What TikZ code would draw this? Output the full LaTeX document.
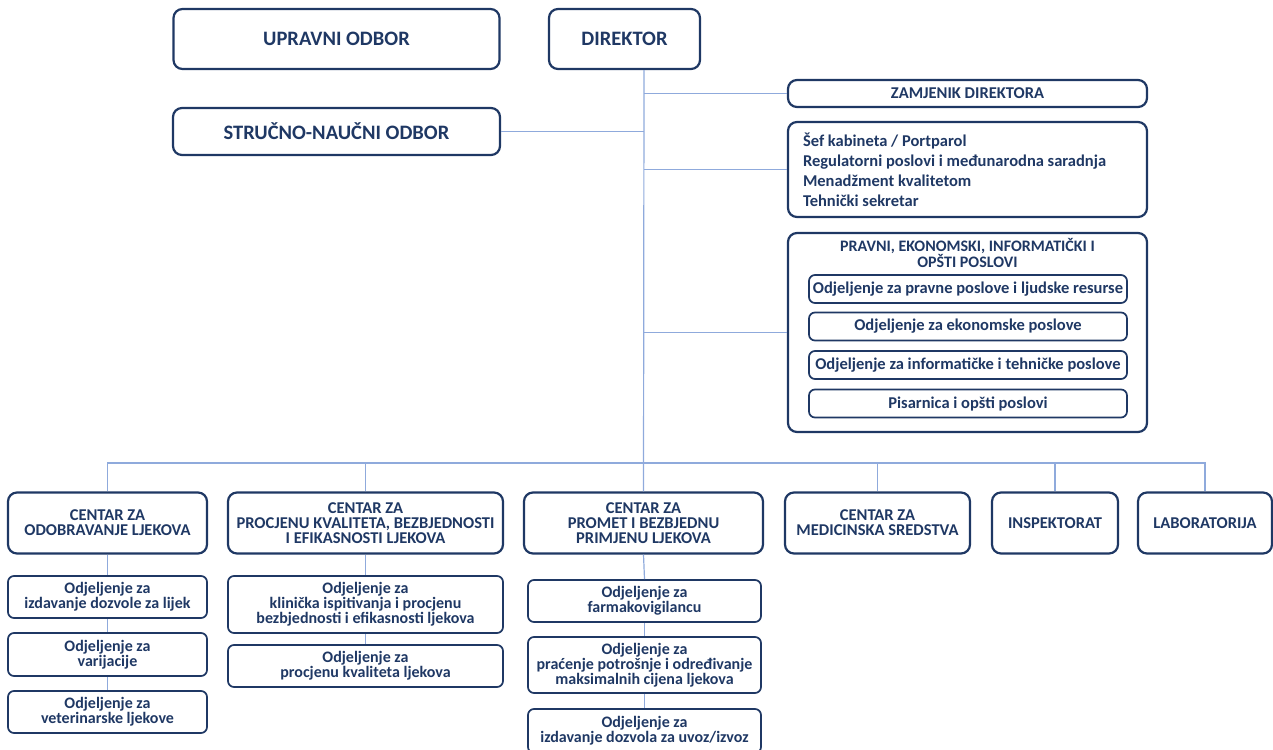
\documentclass[tikz,border=0pt]{standalone}
\usepackage{fontspec}
\setmainfont{Carlito}
\usepackage{tikz}
\usetikzlibrary{positioning}
\definecolor{marine}{RGB}{31,56,100}
\definecolor{bleuclair}{RGB}{143,170,220}

\begin{document}
\begin{tikzpicture}[x=1pt,y=-1pt]
	\useasboundingbox (0,0) rectangle (1273,749);
	\tikzstyle{lien}=[-,line width=1.2pt,draw=bleuclair]
	\tikzset{boite/.style={draw=marine,line width=2.2pt,rounded corners=9pt,text=marine,align=center,inner sep=0pt,font=\fontsize{16}{15}\selectfont\bfseries},
		grande/.style={boite,font=\fontsize{20.5}{22}\selectfont\bfseries},
		centre/.style={boite,minimum height=61pt,font=\fontsize{16.5}{15}\selectfont\bfseries},
		odj/.style={boite,line width=1.7pt,rounded corners=6pt}}
	% organes
	\node[grande,minimum width=326pt,minimum height=60pt] (uo) at (336.5,39) {UPRAVNI ODBOR};
	\node[grande,minimum width=151pt,minimum height=60pt] (dir) at (624.5,39) {DIREKTOR};
	\node[grande,minimum width=327pt,minimum height=47pt] (sno) at (336.5,131.5) {STRUČNO-NAUČNI ODBOR};
	\node[boite,font=\fontsize{16.5}{15}\selectfont\bfseries,minimum width=359pt,minimum height=27pt] (zam) at (967.5,93.5) {ZAMJENIK DIREKTORA};
	\node[boite,font=\fontsize{16.5}{20}\selectfont\bfseries,minimum width=359pt,minimum height=95pt,text width=329pt,align=flush left] (kab) at (967.5,169.5) {Šef kabineta / Portparol\\Regulatorni poslovi i međunarodna saradnja\\Menadžment kvalitetom\\Tehnički sekretar};
	\node[boite,minimum width=359pt,minimum height=199pt] (pr) at (967.5,332.5) {};
	\node[text=marine,inner sep=0pt,align=center,font=\fontsize{16}{14}\selectfont\bfseries,below=6pt of pr.north] (prt) {PRAVNI, EKONOMSKI, INFORMATIČKI I\\OPŠTI POSLOVI};
	\node[odj,font=\fontsize{16.5}{15}\selectfont\bfseries,minimum width=318pt,minimum height=28pt] (pr1) at (968,289) {Odjeljenje za pravne poslove i ljudske resurse};
	\node[odj,font=\fontsize{16.5}{15}\selectfont\bfseries,minimum width=318pt,minimum height=28pt] (pr2) at (968,326.5) {Odjeljenje za ekonomske poslove};
	\node[odj,font=\fontsize{16.5}{15}\selectfont\bfseries,minimum width=318pt,minimum height=28pt] (pr3) at (968,365) {Odjeljenje za informatičke i tehničke poslove};
	\node[odj,font=\fontsize{16.5}{15}\selectfont\bfseries,minimum width=318pt,minimum height=28pt] (pr4) at (968,403.5) {Pisarnica i opšti poslovi};
	% centri
	\node[centre,minimum width=199pt] (c1) at (107.5,523) {CENTAR ZA\\ODOBRAVANJE LJEKOVA};
	\node[centre,minimum width=275pt] (c2) at (365.5,523) {CENTAR ZA\\PROCJENU KVALITETA, BEZBJEDNOSTI\\I EFIKASNOSTI LJEKOVA};
	\node[centre,minimum width=239pt] (c3) at (643.5,523) {CENTAR ZA\\PROMET I BEZBJEDNU\\PRIMJENU LJEKOVA};
	\node[centre,minimum width=185pt] (c4) at (877.5,523) {CENTAR ZA\\MEDICINSKA SREDSTVA};
	\node[centre,minimum width=126pt] (c5) at (1055,523) {INSPEKTORAT};
	\node[centre,minimum width=134pt] (c6) at (1205,523) {LABORATORIJA};
	% odjeljenja
	\node[odj,minimum width=199pt,minimum height=42pt] (c1a) at (107.5,597) {Odjeljenje za\\izdavanje dozvole za lijek};
	\node[odj,minimum width=199pt,minimum height=43pt] (c1b) at (107.5,654.5) {Odjeljenje za\\varijacije};
	\node[odj,minimum width=199pt,minimum height=42pt] (c1c) at (107.5,712) {Odjeljenje za\\veterinarske ljekove};
	\node[odj,minimum width=275pt,minimum height=57pt] (c2a) at (365.5,604.5) {Odjeljenje za\\klinička ispitivanja i procjenu\\bezbjednosti i efikasnosti ljekova};
	\node[odj,minimum width=275pt,minimum height=42pt] (c2b) at (365.5,666) {Odjeljenje za\\procjenu kvaliteta ljekova};
	\node[odj,minimum width=233pt,minimum height=42pt] (c3a) at (644.5,601) {Odjeljenje za\\farmakovigilancu};
	\node[odj,minimum width=233pt,minimum height=56pt] (c3b) at (644.5,665) {Odjeljenje za\\praćenje potrošnje i određivanje\\maksimalnih cijena ljekova};
	\node[odj,minimum width=233pt,minimum height=44pt] (c3c) at (644.5,731) {Odjeljenje za\\izdavanje dozvola za uvoz/izvoz};
	\coordinate (bus) at (644,463);
	\draw[lien] (dir.south -| bus) -- (c3.north);
	\draw[lien] (sno.east) -- (sno.east -| bus);
	\draw[lien] (bus |- zam.west) -- (zam.west);
	\draw[lien] (bus |- kab.west) -- (kab.west);
	\draw[lien] (bus |- pr.west) -- (pr.west);
	\foreach \c in {c1,c2,c4,c5,c6}
		\draw[lien] (bus) -| (\c.north);
	\draw[lien] (c1.south) -- (c1a.north);
	\draw[lien] (c1a.south) -- (c1b.north);
	\draw[lien] (c1b.south) -- (c1c.north);
	\draw[lien] (c2.south) -- (c2a.north);
	\draw[lien] (c2a.south) -- (c2b.north);
	\draw[lien] (c3.south) -- (c3a.north);
	\draw[lien] (c3a.south) -- (c3b.north);
	\draw[lien] (c3b.south) -- (c3c.north);
\end{tikzpicture}
\end{document}
